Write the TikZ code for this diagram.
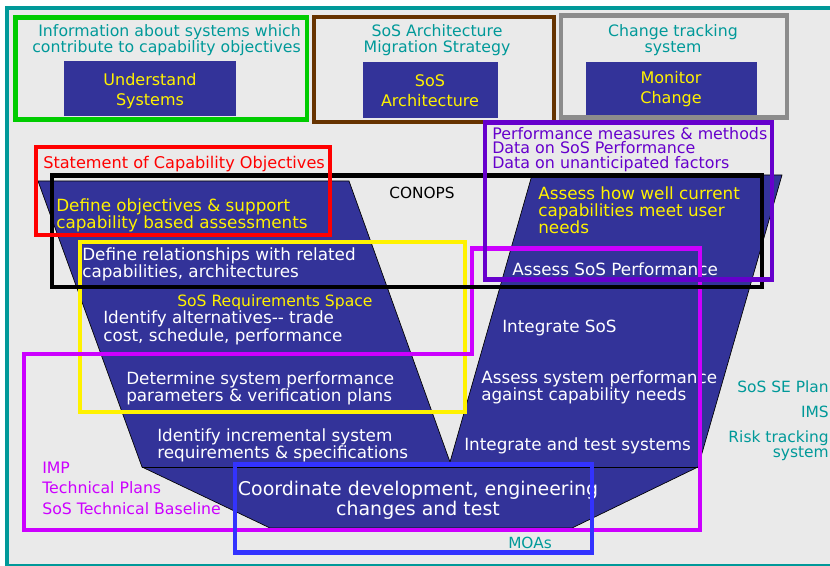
\documentclass[tikz,border=0pt]{standalone}
\usepackage{fontspec}
\setmainfont{DejaVu Sans}
\definecolor{navy}{HTML}{333399}
\definecolor{tealtext}{HTML}{009999}
\definecolor{panel}{HTML}{EAEAEA}
\definecolor{boxgreen}{HTML}{00CC00}
\definecolor{boxbrown}{HTML}{663300}
\definecolor{boxgray}{HTML}{8C8C8C}
\definecolor{boxviolet}{HTML}{6600CC}
\definecolor{boxmagenta}{HTML}{CC00FF}
\definecolor{boxblue}{HTML}{3333FF}
\begin{document}
\begin{tikzpicture}[x=0.75pt,y=-0.75pt,
    every node/.style={inner sep=0pt},
    vtext/.style={anchor=north west,align=left,text=white,font=\fontsize{12.6}{12.75}\selectfont},
    ytext/.style={vtext,text=yellow},
    toptext/.style={anchor=north,align=center,text=tealtext,font=\fontsize{11.8}{12}\selectfont},
    sidetext/.style={anchor=north east,align=right,text=tealtext,font=\fontsize{11.6}{11.25}\selectfont},
    tiletext/.style={anchor=north,align=center,text=yellow,font=\fontsize{12}{15}\selectfont},
    boxline/.style={line width=3.4pt}]
  \useasboundingbox (0,0) rectangle (830,566);
  \fill[panel] (6.5,8) rectangle (845,565.5);
  \draw[tealtext,line width=3pt] (6.5,8) rectangle (845,565.5);
  \path[fill=navy,draw=black,line width=0.5pt]
    (38,181) -- (349,181) -- (450,462) -- (532,175) -- (782,175)
    -- (698,467) -- (572,528) -- (270,528) -- (142,467) -- cycle;
  \draw[black,line width=0.6pt] (142,467) -- (698,467);
  \fill[navy] (64,61) rectangle (236,116);
  \fill[navy] (363,62) rectangle (498,118);
  \fill[navy] (586,62) rectangle (757,115);
  \node[toptext,anchor=north east,align=right] (info) at (301,24) {Information about systems which\\contribute to capability objectives};
  \node[toptext] (migration) at (437,24) {SoS Architecture\\Migration Strategy};
  \node[toptext] (tracking) at (673,24) {Change tracking\\system};
  \node[tiletext] (understand) at (150,73) {Understand\\Systems};
  \node[tiletext] (sosarch) at (430,74) {SoS\\Architecture};
  \node[tiletext] (monitor) at (671,71) {Monitor\\Change};
  \node[anchor=north west,text=red,font=\fontsize{12.1}{13}\selectfont] (statement) at (43,156) {Statement of Capability Objectives};
  \node[ytext,font=\fontsize{12.6}{12}\selectfont] (objectives) at (56,198) {Define objectives \& support\\capability based assessments};
  \node[vtext] (relations) at (82,247) {Define relationships with related\\capabilities, architectures};
  \node[anchor=north,font=\fontsize{11.5}{12}\selectfont] (conops) at (422,187) {CONOPS};
  \node[ytext,font=\fontsize{11.7}{12}\selectfont] (reqspace) at (177,294) {SoS Requirements Space};
  \node[vtext,font=\fontsize{12.6}{13.5}\selectfont] (alternatives) at (103,310) {Identify alternatives-{}- trade\\cost, schedule, performance};
  \node[vtext,font=\fontsize{12.6}{13}\selectfont] (parameters) at (126,371) {Determine system performance\\parameters \& verification plans};
  \node[vtext,font=\fontsize{12.6}{12}\selectfont] (increment) at (157,428) {Identify incremental system\\requirements \& specifications};
  \node[anchor=north,align=center,text=white,font=\fontsize{14.2}{15}\selectfont] (coordinate) at (418,481) {Coordinate development, engineering\\changes and test};
  \node[anchor=north west,align=left,text=boxmagenta,font=\fontsize{11.8}{15.4}\selectfont] (plans) at (42,461.5) {IMP\\Technical Plans\\SoS Technical Baseline};
  \node[vtext] (integsos) at (502,320) {Integrate SoS};
  \node[vtext] (assesssys) at (481,370) {Assess system performance\\against capability needs};
  \node[vtext] (integtest) at (464,437) {Integrate and test systems};
  \node[anchor=north,text=tealtext,font=\fontsize{11.5}{12}\selectfont] (moas) at (530,537) {MOAs};
  \node[sidetext] (seplan) at (829,380) {SoS SE Plan};
  \node[sidetext] (ims) at (829,405.5) {IMS};
  \node[sidetext] (risk) at (829,430) {Risk tracking\\system};
  \node[anchor=north west,align=left,text=boxviolet,font=\fontsize{11.9}{10.9}\selectfont] (measures) at (492,127) {Performance measures \& methods\\Data on SoS Performance\\Data on unanticipated factors};
  \node[ytext] (howwell) at (538,186) {Assess how well current\\capabilities meet user\\needs};
  \node[vtext] (assesssos) at (512,262) {Assess SoS Performance};
  \draw[boxgreen,boxline] (15.5,17.5) rectangle (307,119.5);
  \draw[boxbrown,boxline] (314,17) rectangle (554,122);
  \draw[boxgray,boxline] (561,15.5) rectangle (787,117.5);
  \draw[yellow,boxline] (80,242) rectangle (465,412);
  \draw[boxmagenta,boxline] (24,354) -- (472,354) -- (472,248.5) -- (700,248.5) -- (700,530) -- (24,530) -- cycle;
  \draw[black,boxline] (52,175.5) rectangle (762,287);
  \draw[boxviolet,boxline] (485,122.5) rectangle (772,279.5);
  \draw[red,boxline] (36,147) rectangle (330,235);
  \draw[boxblue,boxline] (235,464.5) rectangle (592,552.5);
\end{tikzpicture}
\end{document}
